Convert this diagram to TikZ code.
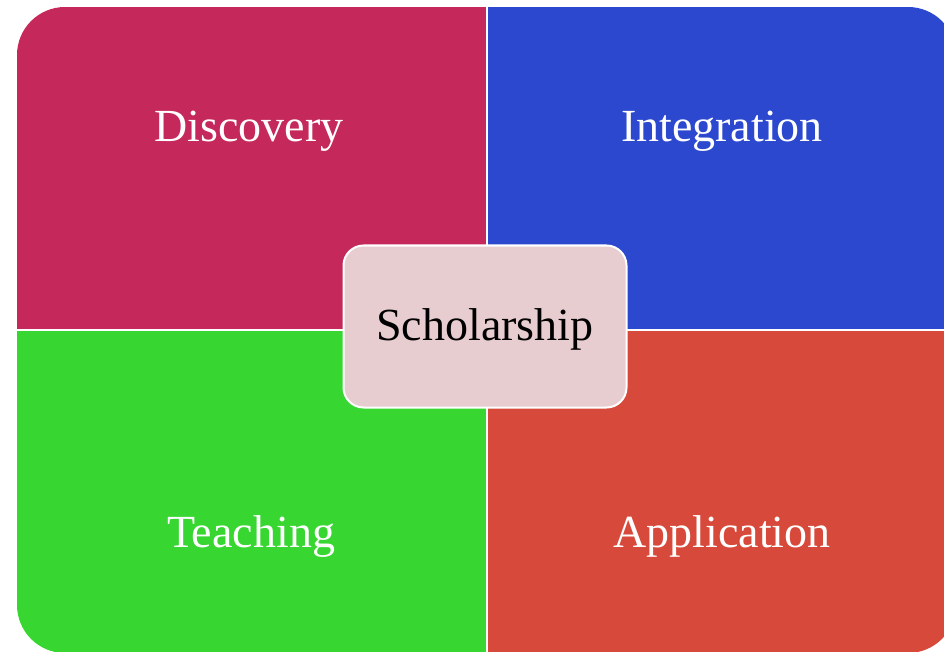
\documentclass[tikz,border=0pt]{standalone}
\usepackage{fontspec}
\setmainfont{Liberation Serif}
\begin{document}
\begin{tikzpicture}[x=1pt,y=-1pt,
  quad/.style={draw=white,line width=2pt},
  lbl/.style={text=white,font=\fontsize{46}{50}\selectfont,inner sep=0pt,anchor=base},
  hub/.style={draw=white,line width=2pt,fill=hubpink,rounded corners=20pt,
    minimum width=283pt,minimum height=162pt,inner sep=0pt,
    text height=31pt,text depth=3pt,
    font=\fontsize{46}{50}\selectfont,text=black}]
\definecolor{discov}{HTML}{C5285A}
\definecolor{integ}{HTML}{2B48CF}
\definecolor{teach}{HTML}{37D631}
\definecolor{applic}{HTML}{D7493A}
\definecolor{hubpink}{HTML}{E8CDD0}
\useasboundingbox (0,0) rectangle (944,652);
% four quadrants inside one rounded outline
\begin{scope}
  \clip[rounded corners=48pt] (17,7) rectangle (956,653);
  \fill[discov] (17,7) rectangle (487,329.5);
  \fill[integ] (487,7) rectangle (956,329.5);
  \fill[teach] (17,329.5) rectangle (487,653);
  \fill[applic] (487,329.5) rectangle (956,653);
\end{scope}
% white gaps between quadrants
\draw[quad] (487,0) -- (487,652);
\draw[quad] (0,329.5) -- (944,329.5);
% labels
\node[lbl] (disc) at (249,142) {Discovery};
\node[lbl] (intg) at (722,142) {Integration};
\node[lbl] (tch) at (251,547) {Teaching};
\node[lbl] (app) at (722,547) {Application};
% central hub
\node[hub] (sch) at (485,326.5) {Scholarship};
\end{tikzpicture}
\end{document}
